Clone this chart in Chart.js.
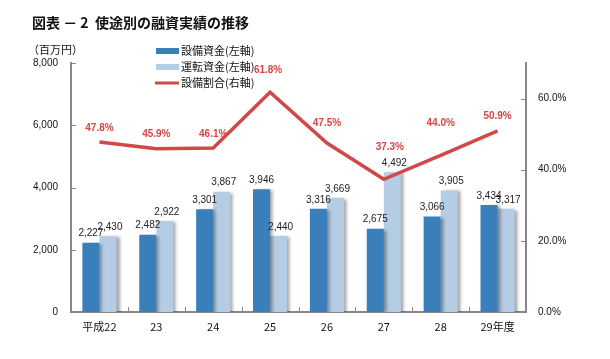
<!DOCTYPE html>
<html><head><meta charset="utf-8">
<script src="https://cdn.jsdelivr.net/npm/chart.js@4/dist/chart.umd.min.js"></script>
<style>html,body{margin:0;padding:0;background:#fff}#wrap{width:610px;height:359px}</style>
</head><body><div id="wrap"><canvas id="c" width="610" height="359"></canvas></div>
<script>
const categories = ['平成22','23','24','25','26','27','28','29年度'];
const equipmentFunds = [2227,2482,3301,3946,3316,2675,3066,3434];
const operatingFunds = [2430,2922,3867,2440,3669,4492,3905,3317];
const equipmentRatio = [47.8,45.9,46.1,61.8,47.5,37.3,44.0,50.9];
const leftTicks = [0,2000,4000,6000,8000];
const rightTicks = [0,20,40,60];

// label placement (pixels above / beside each line point)
const ratioLabelLift = [14,14,14,22,20,32,32,15];
const ratioLabelShift = [0,0,0,-2,0,6,0,0];

const DARK = '#3a7eba', LIGHT = '#b4cce4', RED = '#d14848';
const NUM = '"Liberation Sans", Arial, sans-serif';
const JP = '"Noto Sans CJK JP", sans-serif';

const fmt = v => v.toLocaleString('en-US');

const decor = {
  id: 'decor',
  beforeDatasetDraw(chart, args) {
    const ds = chart.data.datasets[args.index];
    if (ds.type === 'bar') {
      const ctx = chart.ctx; ctx.save();
      ctx.shadowColor = 'rgba(0,0,0,0.35)'; ctx.shadowOffsetX = 3; ctx.shadowOffsetY = 1; ctx.shadowBlur = 3;
    }
  },
  afterDatasetDraw(chart, args) {
    const ds = chart.data.datasets[args.index];
    if (ds.type === 'bar') chart.ctx.restore();
  },
  afterDraw(chart) {
    const ctx = chart.ctx; const ca = chart.chartArea;
    const x = chart.scales.x, y = chart.scales.y, y2 = chart.scales.y2;
    ctx.save();
    // inward ticks
    ctx.strokeStyle = '#888'; ctx.lineWidth = 1;
    leftTicks.forEach(t => { const py = Math.round(y.getPixelForValue(t)) + 0.5; ctx.beginPath(); ctx.moveTo(ca.left, py); ctx.lineTo(ca.left + 5, py); ctx.stroke(); });
    rightTicks.forEach(t => { const py = Math.round(y2.getPixelForValue(t)) + 0.5; ctx.beginPath(); ctx.moveTo(ca.right, py); ctx.lineTo(ca.right - 5, py); ctx.stroke(); });
    for (let i = 1; i < categories.length; i++) {
      const px = Math.round((x.getPixelForValue(i - 1) + x.getPixelForValue(i)) / 2) + 0.5;
      ctx.beginPath(); ctx.moveTo(px, ca.bottom); ctx.lineTo(px, ca.bottom - 5); ctx.stroke();
    }
    // bar value labels
    ctx.font = '10px ' + NUM; ctx.fillStyle = '#222'; ctx.textAlign = 'center'; ctx.textBaseline = 'bottom';
    [0, 1].forEach(di => {
      const meta = chart.getDatasetMeta(di);
      meta.data.forEach((el, i) => {
        const v = chart.data.datasets[di].data[i];
        ctx.fillText(fmt(v), el.x + (di === 1 ? 2 : 0), el.y - 4);
      });
    });
    // ratio labels
    ctx.font = 'bold 10px ' + NUM; ctx.fillStyle = '#d64545'; ctx.textBaseline = 'middle';
    const lm = chart.getDatasetMeta(2);
    lm.data.forEach((p, i) => {
      ctx.fillText(equipmentRatio[i].toFixed(1) + '%', p.x + ratioLabelShift[i], p.y - ratioLabelLift[i]);
    });
    // title
    ctx.fillStyle = '#111'; ctx.textAlign = 'left'; ctx.textBaseline = 'middle';
    ctx.font = 'bold 14px ' + JP;
    ctx.fillText('図表 － 2  使途別の融資実績の推移', 32, 23);
    ctx.font = '11px ' + JP;
    ctx.fillText('（百万円）', 28, 50);
    // legend
    const items = [
      {t: '設備資金(左軸)', c: DARK, kind: 'box'},
      {t: '運転資金(左軸)', c: LIGHT, kind: 'box'},
      {t: '設備割合(右軸)', c: RED, kind: 'line'}
    ];
    items.forEach((it, i) => {
      const cy = 51 + i * 16;
      ctx.fillStyle = it.c;
      if (it.kind === 'box') ctx.fillRect(156, cy - 3, 23, 6);
      else ctx.fillRect(155, cy - 1.5, 24, 3);
      ctx.fillStyle = '#111'; ctx.font = '11px ' + JP;
      ctx.fillText(it.t, 181, cy);
    });
    ctx.restore();
  }
};

new Chart(document.getElementById('c'), {
  data: {
    labels: categories,
    datasets: [
      {type: 'bar', label: '設備資金(左軸)', data: equipmentFunds, backgroundColor: DARK, yAxisID: 'y', order: 1, categoryPercentage: 0.6, barPercentage: 1.0},
      {type: 'bar', label: '運転資金(左軸)', data: operatingFunds, backgroundColor: LIGHT, yAxisID: 'y', order: 1, categoryPercentage: 0.6, barPercentage: 1.0},
      {type: 'line', label: '設備割合(右軸)', data: equipmentRatio, borderColor: RED, borderWidth: 3.5, pointRadius: 0, tension: 0, yAxisID: 'y2', order: 0, borderJoinStyle: 'miter'}
    ]
  },
  options: {
    responsive: false, animation: false, devicePixelRatio: 1,
    layout: {padding: {left: 0, right: 0, top: 63, bottom: 0}},
    plugins: {legend: {display: false}, title: {display: false}, tooltip: {enabled: false}},
    scales: {
      x: {
        grid: {display: false, drawTicks: false},
        border: {color: '#888', width: 2},
        ticks: {color: '#111', font: {family: JP, size: 11}, padding: 8, maxRotation: 0, autoSkip: false},
        afterFit(s) { s.height = 47; }
      },
      y: {
        position: 'left', min: 0, max: 8000,
        afterBuildTicks(s) { s.ticks = leftTicks.map(v => ({value: v})); },
        grid: {display: false, drawTicks: false},
        border: {color: '#888', width: 2},
        ticks: {color: '#111', font: {family: NUM, size: 10}, padding: 13, callback: v => fmt(v)},
        afterFit(s) { s.width = 71; }
      },
      y2: {
        position: 'right', min: 0, max: 70,
        afterBuildTicks(s) { s.ticks = rightTicks.map(v => ({value: v})); },
        grid: {display: false, drawTicks: false},
        border: {color: '#888', width: 2},
        ticks: {color: '#111', font: {family: NUM, size: 10}, padding: 12, callback: v => v.toFixed(1) + '%'},
        afterFit(s) { s.width = 84; }
      }
    }
  },
  plugins: [decor]
});
</script></body></html>
